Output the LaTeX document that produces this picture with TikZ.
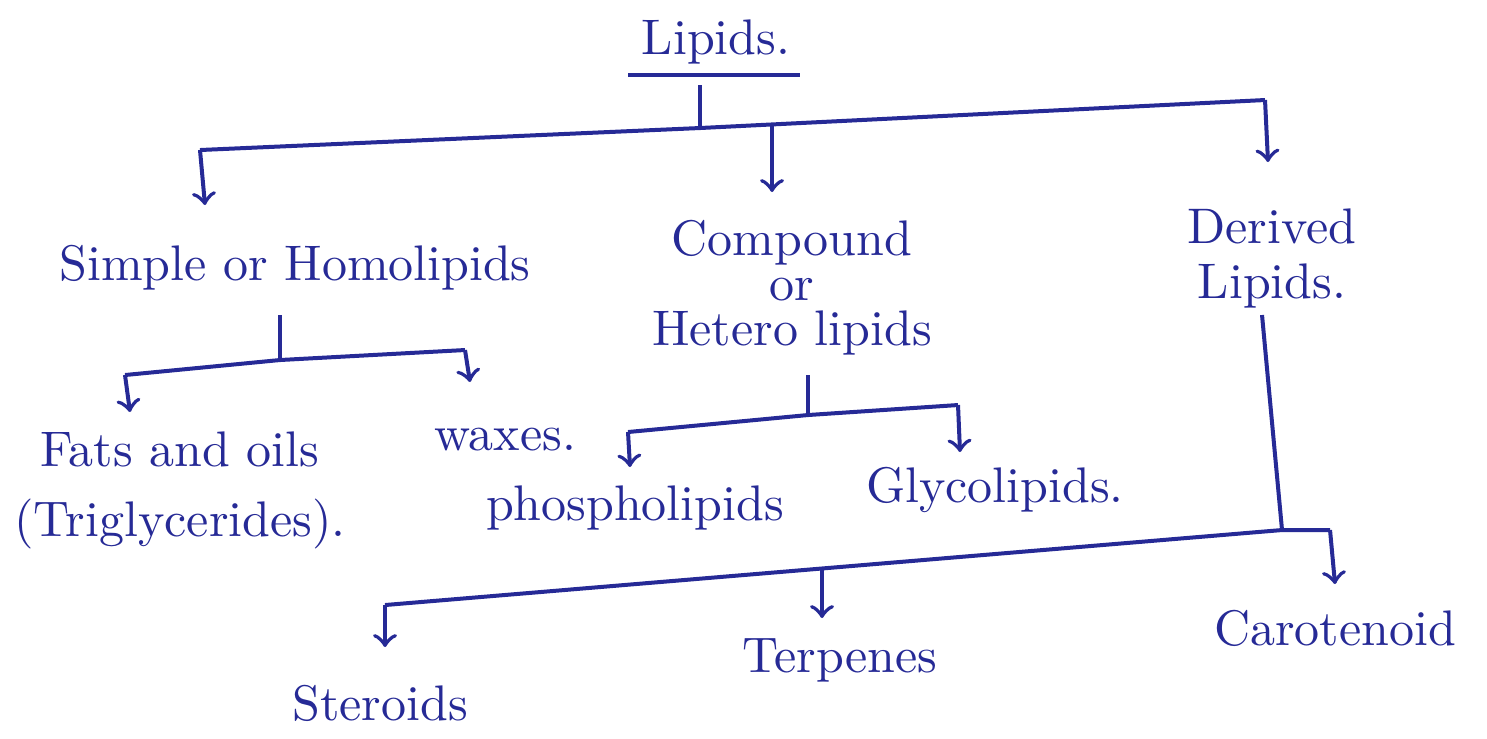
\documentclass[tikz,border=0pt]{standalone}
\usepackage{tikz}
\usetikzlibrary{positioning}
\definecolor{ink}{RGB}{38,42,150}

\begin{document}
\begin{tikzpicture}[
    x=0.2pt, y=-0.2pt,
    term/.style={text=ink, align=center, inner sep=1pt, font=\fontsize{10}{11}\selectfont},
    line/.style={draw=ink, thick},
    arrow/.style={->, draw=ink, thick}
]
    \useasboundingbox (0,0) rectangle (1487,738);

    % Root
    \node[term] (lipids) at (716,42) {Lipids.};
    \draw[line] (628,75) -- (800,75);
    \coordinate (rootbase) at (700,85);
    \coordinate (top) at (700,128);
    \draw[line] (rootbase) -- (top);

    % Main branch
    \coordinate (left) at (200,150);
    \coordinate (mid) at (772,125);
    \coordinate (right) at (1265,100);
    \draw[line] (left) -- (top) -- (right);
    \draw[arrow] (left) -- (205,205);
    \draw[arrow] (mid) -- (772,192);
    \draw[arrow] (right) -- (1268,162);

    % Classes
    \node[term] (simple) at (295,268) {Simple or Homolipids};
    \node[term] (compound) at (792,288) {Compound\\[-2pt]or\\[-2pt]Hetero lipids};
    \node[term] (derived) at (1272,258) {Derived\\Lipids.};

    % Simple lipids
    \coordinate (sbase) at (280,315);
    \coordinate (stop) at (280,360);
    \coordinate (sleft) at (125,375);
    \coordinate (sright) at (465,350);
    \draw[line] (sbase) -- (stop);
    \draw[line] (sleft) -- (stop) -- (sright);
    \draw[arrow] (sleft) -- (130,412);
    \draw[arrow] (sright) -- (470,382);
    \node[term] (fats) at (180,490) {Fats and oils\\[3pt](Triglycerides).};
    \node[term] (waxes) at (505,440) {waxes.};

    % Compound lipids
    \coordinate (cbase) at (808,375);
    \coordinate (ctop) at (808,415);
    \coordinate (cleft) at (628,432);
    \coordinate (cright) at (958,405);
    \draw[line] (cbase) -- (ctop);
    \draw[line] (cleft) -- (ctop) -- (cright);
    \draw[arrow] (cleft) -- (630,467);
    \draw[arrow] (cright) -- (960,452);
    \node[term] (phospho) at (635,508) {phospholipids};
    \node[term] (glyco) at (995,490) {Glycolipids.};

    % Derived lipids
    \coordinate (dbase) at (1262,315);
    \coordinate (djoin) at (1282,530);
    \coordinate (dleft) at (385,605);
    \coordinate (dmid) at (822,569);
    \coordinate (dright) at (1330,530);
    \draw[line] (dbase) -- (djoin);
    \draw[line] (dleft) -- (djoin) -- (dright);
    \draw[arrow] (dleft) -- (385,647);
    \draw[arrow] (dmid) -- (822,618);
    \draw[arrow] (dright) -- (1335,584);
    \node[term] (steroids) at (380,703) {Steroids};
    \node[term] (terpenes) at (840,660) {Terpenes};
    \node[term] (carotenoid) at (1335,628) {Carotenoid};
\end{tikzpicture}
\end{document}
